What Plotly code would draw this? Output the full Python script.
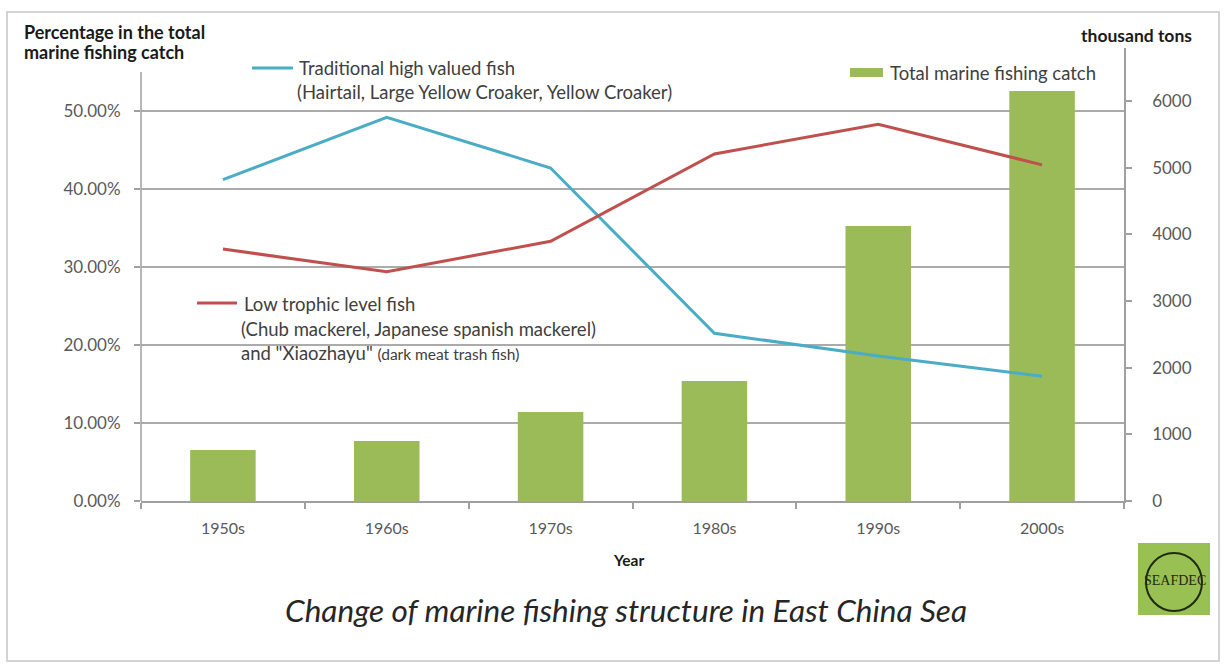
import plotly.graph_objects as go

# Decades on the category axis
decades = ["1950s", "1960s", "1970s", "1980s", "1990s", "2000s"]

# Share of total marine fishing catch (fractions)
traditional_share = [0.412, 0.492, 0.427, 0.215, 0.186, 0.160]
low_trophic_share = [0.323, 0.294, 0.333, 0.445, 0.483, 0.431]

# Total marine fishing catch, thousand tons
total_catch = [765, 900, 1335, 1800, 4125, 6150]

# Axis tick values
pct_ticks = [0.0, 0.1, 0.2, 0.3, 0.4, 0.5]
ton_ticks = [0, 1000, 2000, 3000, 4000, 5000, 6000]

BLUE = "#4BACC6"
RED = "#C0504D"
GREEN = "#9BBB59"
GRID = "#ababab"
AXIS = "#a0a0a0"
TICKTXT = "#595959"
DARK = "#262626"
FONT = "Lato"

W, H = 1225, 664
L, R, T, B = 141, 1124, 48, 501  # plot area in pixels


def px(x):
    return (x - L) / (R - L)


def py(y):
    return (B - y) / (B - T)


fig = go.Figure()

# Bars on the primary (right-hand) axis so the lines sit above them
fig.add_trace(go.Bar(
    x=decades, y=total_catch, yaxis="y", marker=dict(color=GREEN, line=dict(width=0)),
    width=0.4, name="Total marine fishing catch", showlegend=False,
))
fig.add_trace(go.Scatter(
    x=decades, y=traditional_share, yaxis="y2", mode="lines",
    line=dict(color=BLUE, width=3), name="Traditional high valued fish", showlegend=False,
))
fig.add_trace(go.Scatter(
    x=decades, y=low_trophic_share, yaxis="y2", mode="lines",
    line=dict(color=RED, width=3), name="Low trophic level fish", showlegend=False,
))

pct_top = 0.5808
ton_top = 6795

fig.update_layout(
    width=W, height=H,
    margin=dict(l=L, r=W - R, t=T, b=H - B),
    paper_bgcolor="white", plot_bgcolor="white",
    font=dict(family=FONT, size=16, color=TICKTXT),
    xaxis=dict(
        type="category", range=[-0.5, 5.5], showline=True, linecolor=AXIS, linewidth=1.5,
        ticks="outside", tickson="boundaries", ticklen=6, tickcolor=AXIS, tickwidth=1.5,
        showgrid=False, tickfont=dict(size=16, color=TICKTXT), ticklabelstandoff=12,
    ),
    yaxis=dict(
        side="right", range=[0, ton_top], tickvals=ton_ticks, showgrid=False, zeroline=False,
        showline=True, linecolor=AXIS, linewidth=1.5, ticks="outside", ticklen=6,
        tickcolor=AXIS, tickwidth=1.5, tickfont=dict(size=17, color=TICKTXT),
        ticklabelstandoff=17,
    ),
    yaxis2=dict(
        side="left", overlaying="y", anchor="x", range=[0, pct_top], tickvals=pct_ticks,
        tickformat=".2%", showgrid=True, gridcolor=GRID, gridwidth=1.5, zeroline=False,
        showline=False, ticks="outside", ticklen=6, tickcolor=AXIS, tickwidth=1.5,
        tickfont=dict(size=17, color=TICKTXT), ticklabelstandoff=10,
    ),
)

shapes = []
# Left axis line (stops short of the top)
shapes.append(dict(type="line", xref="paper", yref="y2", x0=0, x1=0, y0=0, y1=0.55,
                   line=dict(color=AXIS, width=1.5), layer="above"))
# Outer frame
shapes.append(dict(type="rect", xref="paper", yref="paper",
                   x0=px(7), x1=px(1219), y0=py(661), y1=py(12),
                   line=dict(color="#d4d4d4", width=2), layer="below"))
# Legend keys
shapes.append(dict(type="line", xref="paper", yref="paper", x0=px(252), x1=px(293),
                   y0=py(68), y1=py(68), line=dict(color=BLUE, width=3)))
shapes.append(dict(type="line", xref="paper", yref="paper", x0=px(197), x1=px(237),
                   y0=py(303), y1=py(303), line=dict(color=RED, width=3)))
shapes.append(dict(type="rect", xref="paper", yref="paper", x0=px(850), x1=px(883),
                   y0=py(77), y1=py(68), line=dict(width=0), fillcolor=GREEN))
# Logo badge
shapes.append(dict(type="rect", xref="paper", yref="paper", x0=px(1138), x1=px(1210),
                   y0=py(615), y1=py(543), line=dict(width=0), fillcolor="#98c052"))
shapes.append(dict(type="circle", xref="paper", yref="paper", x0=px(1146), x1=px(1202),
                   y0=py(611), y1=py(553), line=dict(color="#1f2a10", width=2)))
fig.update_layout(shapes=shapes)

ann = []


def text(x, y, s, size=18, color=DARK, xanchor="left", bold=False, italic=False, family=FONT):
    if bold:
        s = f"<b>{s}</b>"
    if italic:
        s = f"<i>{s}</i>"
    ann.append(dict(x=px(x), y=py(y), xref="paper", yref="paper", text=s, showarrow=False,
                    xanchor=xanchor, yanchor="middle", align="left",
                    font=dict(size=size, color=color, family=family)))


# Axis titles
text(22, 32, "Percentage in the total", size=18, bold=True, color="#1a1a1a")
text(22, 52, "marine fishing catch", size=18, bold=True, color="#1a1a1a")
text(1194, 35, "thousand tons", size=17.5, bold=True, color="#1a1a1a", xanchor="right")
text(628, 560, "Year", size=15.5, bold=True, color="#1a1a1a", xanchor="center")

# Legend labels
LEG = "#404040"
text(297, 68, "Traditional high valued fish", size=18.5, color=LEG)
text(295, 92, "(Hairtail, Large Yellow Croaker, Yellow Croaker)", size=18.5, color=LEG)
text(242, 304, "Low trophic level fish", size=18.5, color=LEG)
text(239, 329, "(Chub mackerel, Japanese spanish mackerel)", size=18.5, color=LEG)
text(239, 353, "and \"Xiaozhayu\" <span style='font-size:15.5px'>(dark meat trash fish)</span>",
     size=18.5, color=LEG)
text(888, 73, "Total marine fishing catch", size=18.5, color=LEG)

# Caption
text(626, 610, "Change of marine fishing structure in East China Sea", size=31.5,
     color=DARK, xanchor="center", italic=True)

# Logo lettering
text(1175, 580, "SEAFDEC", size=14, color="#1f2a10", xanchor="center",
     family="Liberation Serif")

fig.update_layout(annotations=ann)

fig.write_html("out.html")
